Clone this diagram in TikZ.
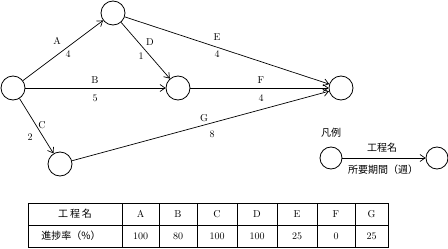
\documentclass[tikz,border=0pt]{standalone}
\usepackage{fontspec}
\newfontfamily\cjk{Noto Sans CJK JP}
\usetikzlibrary{arrows.meta}
\begin{document}
\begin{tikzpicture}[x=1pt,y=-1pt,
  ev/.style={draw,circle,minimum size=24pt,inner sep=0pt,line width=0.8pt},
  lev/.style={draw,circle,minimum size=22pt,inner sep=0pt,line width=0.8pt},
  act/.style={draw,line width=0.7pt,-{Straight Barb[length=5pt,width=7pt]}},
  lab/.style={inner sep=0pt,font=\fontsize{10}{12}\selectfont},
  jlab/.style={inner sep=0pt,font=\cjk\fontsize{10}{12}\selectfont},
  cell/.style={inner sep=0pt,font=\fontsize{10}{12}\selectfont}]
\useasboundingbox (0,0) rectangle (448,249);
\node[ev] (n1) at (13,88) {};
\node[ev] (n2) at (113,13) {};
\node[ev] (n3) at (178,88) {};
\node[ev] (n4) at (60,164) {};
\node[ev] (n5) at (341,88) {};
\draw[act] (n1) -- (n2);
\draw[act] (n1) -- (n3);
\draw[act] (n1) -- (n4);
\draw[act] (n2) -- (n3);
\draw[act] (n2) -- (n5);
\draw[act] (n3) -- (n5);
\draw[act] (n4) -- (n5);
\node[lab] (la) at (57,41) {A};
\node[lab] (l4a) at (68,54) {4};
\node[lab] (ld) at (150,42) {D};
\node[lab] (l1) at (141,56) {1};
\node[lab] (le) at (217,37) {E};
\node[lab] (l4e) at (217,54) {4};
\node[lab] (lb) at (95,80) {B};
\node[lab] (l5) at (95,98) {5};
\node[lab] (lf) at (261,80) {F};
\node[lab] (l4f) at (261,98) {4};
\node[lab] (lc) at (42,125) {C};
\node[lab] (l2) at (30,137) {2};
\node[lab] (lg) at (204,118) {G};
\node[lab] (l8) at (212,134) {8};
% legend
\node[jlab] (hanrei) at (331,133) {凡例};
\node[lev] (g1) at (331,158) {};
\node[lev] (g2) at (437,158) {};
\draw[act] (g1) -- (g2);
\node[jlab] (kname) at (382,148) {工程名};
\node[jlab] (kdur) at (383,170) {所要期間（週）};
% table
\draw[line width=0.8pt] (28,203) rectangle (388,247);
\draw[line width=0.6pt] (28,225) -- (388,225);
\foreach \x in {122,159,197,237,277,317,355} \draw[line width=0.6pt] (\x,203) -- (\x,247);
\node[jlab] (h0) at (75,214) {工\hspace{2pt}程\hspace{2pt}名};
\node[jlab] (r0) at (71,236) {進捗率（\%）};
\node[cell] (hA) at (140.5,214) {A};
\node[cell] (hB) at (178,214) {B};
\node[cell] (hC) at (217,214) {C};
\node[cell] (hD) at (257,214) {D};
\node[cell] (hE) at (297,214) {E};
\node[cell] (hF) at (336,214) {F};
\node[cell] (hG) at (371.5,214) {G};
\node[cell] (vA) at (140.5,236) {100};
\node[cell] (vB) at (178,236) {80};
\node[cell] (vC) at (217,236) {100};
\node[cell] (vD) at (257,236) {100};
\node[cell] (vE) at (297,236) {25};
\node[cell] (vF) at (336,236) {0};
\node[cell] (vG) at (371.5,236) {25};
\end{tikzpicture}
\end{document}
